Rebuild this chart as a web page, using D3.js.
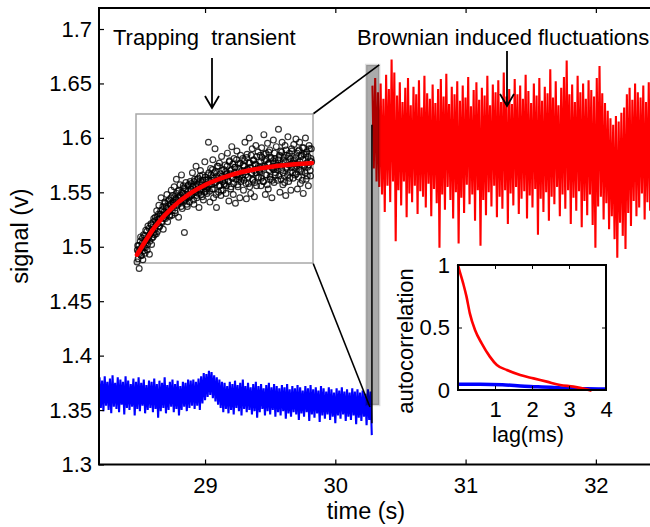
<!DOCTYPE html>
<html><head><meta charset="utf-8">
<script src="https://cdn.jsdelivr.net/npm/d3@7"></script>
<style>
body{margin:0;background:#fff}
svg{display:block;font-family:"Liberation Sans",Arial,Helvetica,sans-serif}
</style>
</head><body>
<svg id="c" width="650" height="527"></svg>
<script>
// ---------------- DATA ----------------
const xTicks = [29, 30, 31, 32];
const yTicks = [1.3, 1.35, 1.4, 1.45, 1.5, 1.55, 1.6, 1.65, 1.7];
const xLabel = "time (s)";
const yLabel = "signal (v)";

// blue trace (before trapping), sampled every blueStep seconds
const blueStart = 28.19, blueStep = 0.01;
const blueValues = [
1.380,1.352,1.377,1.349,1.381,1.354,1.376,1.350,1.379,1.347,1.382,1.353,1.375,1.351,1.380,1.348,1.378,1.355,1.376,1.346,
1.381,1.352,1.377,1.350,1.374,1.353,1.379,1.345,1.376,1.351,1.380,1.349,1.375,1.354,1.378,1.347,1.373,1.350,1.377,1.352,
1.376,1.348,1.379,1.351,1.374,1.343,1.377,1.349,1.375,1.352,1.380,1.347,1.373,1.350,1.376,1.353,1.378,1.348,1.374,1.351,
1.377,1.345,1.372,1.350,1.376,1.353,1.375,1.349,1.378,1.352,1.377,1.354,1.378,1.351,1.376,1.354,1.379,1.350,1.381,1.356,
1.384,1.359,1.383,1.362,1.386,1.364,1.385,1.361,1.382,1.358,1.380,1.355,1.378,1.352,1.376,1.348,1.375,1.351,1.372,1.347,
1.376,1.350,1.374,1.346,1.377,1.352,1.373,1.349,1.375,1.345,1.378,1.351,1.372,1.348,1.375,1.350,1.371,1.346,1.374,1.349,
1.376,1.343,1.372,1.348,1.374,1.351,1.370,1.345,1.373,1.349,1.375,1.346,1.371,1.350,1.374,1.344,1.372,1.348,1.370,1.345,
1.373,1.349,1.371,1.342,1.374,1.347,1.369,1.344,1.372,1.348,1.370,1.346,1.373,1.341,1.371,1.347,1.368,1.344,1.372,1.348,
1.370,1.340,1.373,1.346,1.369,1.343,1.371,1.347,1.368,1.339,1.372,1.345,1.370,1.342,1.367,1.346,1.371,1.341,1.369,1.344,
1.366,1.338,1.370,1.345,1.368,1.342,1.371,1.346,1.367,1.340,1.369,1.344,1.366,1.341,1.370,1.345,1.367,1.337,1.369,1.343,
1.366,1.340,1.368,1.344,1.365,1.336,1.369,1.341,1.367,1.327
];

// red trace (particle trapped), sampled every redStep seconds
const redStart = 30.285, redStep = 0.0105;
const redValues = [
1.648,1.572,1.655,1.560,1.642,1.555,1.650,1.548,1.636,1.532,1.658,1.556,1.645,1.541,1.672,1.560,1.660,1.505,1.639,1.552,
1.651,1.538,1.633,1.560,1.646,1.527,1.655,1.549,1.630,1.541,1.647,1.556,1.640,1.530,1.653,1.551,1.628,1.546,1.657,1.536,
1.641,1.558,1.636,1.528,1.649,1.553,1.632,1.540,1.645,1.499,1.654,1.548,1.638,1.534,1.659,1.555,1.631,1.543,1.647,1.526,
1.640,1.550,1.652,1.503,1.634,1.545,1.648,1.531,1.637,1.557,1.656,1.539,1.629,1.548,1.644,1.524,1.651,1.552,1.635,1.501,
1.646,1.543,1.639,1.529,1.657,1.550,1.630,1.537,1.649,1.556,1.642,1.527,1.653,1.546,1.633,1.535,1.660,1.552,1.638,1.521,
1.645,1.549,1.631,1.538,1.654,1.555,1.640,1.530,1.648,1.544,1.636,1.551,1.658,1.526,1.643,1.547,1.632,1.536,1.650,1.553,
1.639,1.511,1.655,1.544,1.634,1.532,1.647,1.550,1.641,1.524,1.663,1.546,1.637,1.539,1.652,1.555,1.630,1.528,1.646,1.548,
1.656,1.535,1.671,1.552,1.640,1.521,1.649,1.545,1.633,1.533,1.657,1.551,1.642,1.518,1.650,1.542,1.636,1.529,1.653,1.548,
1.644,1.520,1.638,1.499,1.655,1.537,1.666,1.546,1.641,1.525,1.632,1.540,1.625,1.516,1.618,1.528,1.612,1.507,1.620,1.490,
1.615,1.522,1.623,1.510,1.628,1.498,1.640,1.531,1.646,1.519,1.635,1.542,1.650,1.528,1.642,1.536,1.637,1.549,1.648,1.525,
1.633,1.541,1.651,1.533,1.639,1.547,1.645,1.530,1.636,1.544
];

// the jump between the two states
const jumpTime = 30.281;
const jumpValues = [1.338, 1.612];

// zoomed region highlighted on the main axes
const highlightTimes = [30.237, 30.337];
const highlightValues = [1.3547, 1.667];

// trapping transient inset (own time axis, ms; signal in volts)
// samples A at t = 0, 0.05, 0.10 ...; samples B at t = 0.025, 0.075, ...
const transientStartA = 0, transientStartB = 0.025, transientStep = 0.05;
const transientValuesA = [
1.486,1.501,1.495,1.480,1.498,1.509,1.492,1.503,1.488,1.511,1.500,1.494,1.515,1.506,1.497,1.519,1.508,1.493,1.512,1.521,1.502,1.516,1.509,1.526,
1.511,1.527,1.520,1.533,1.514,1.525,1.538,1.519,1.530,1.545,1.522,1.534,1.516,1.529,1.541,1.526,1.537,1.548,1.523,1.532,1.543,1.528,1.539,1.552,
1.529,1.547,1.540,1.555,1.533,1.544,1.562,1.538,1.551,1.527,1.546,1.557,1.541,1.566,1.535,1.549,1.554,1.513,1.543,1.559,1.548,1.537,1.556,1.545,
1.541,1.560,1.553,1.547,1.568,1.556,1.539,1.562,1.550,1.574,1.545,1.557,1.563,1.536,1.552,1.570,1.548,1.559,1.566,1.543,1.555,1.578,1.551,1.561,
1.549,1.566,1.596,1.557,1.541,1.572,1.561,1.553,1.580,1.545,1.568,1.590,1.559,1.536,1.574,1.563,1.550,1.577,1.556,1.547,1.583,1.565,1.552,1.571,
1.558,1.575,1.549,1.567,1.586,1.561,1.542,1.579,1.570,1.555,1.592,1.564,1.548,1.581,1.573,1.540,1.566,1.588,1.557,1.576,1.562,1.545,1.584,1.569,
1.563,1.581,1.552,1.574,1.596,1.566,1.544,1.585,1.571,1.558,1.600,1.577,1.549,1.568,1.590,1.561,1.580,1.546,1.575,1.593,1.556,1.572,1.587,1.564,
1.570,1.584,1.556,1.591,1.574,1.560,1.603,1.579,1.548,1.586,1.566,1.595,1.553,1.577,1.589,1.562,1.582,1.545,1.572,1.598,1.559,1.581,1.568,1.592,
1.575,1.561,1.608,1.582,1.550,1.588,1.571,1.596,1.557,1.579,1.565,1.593,1.547,1.584,1.573,1.601,1.560,1.586,1.569,1.552,1.590,1.577,1.563,1.594,
1.580,1.566,1.599,1.574,1.553,1.588,1.571,1.596,1.558,1.583,1.569,1.591,1.549,1.585,1.575,1.600,1.562,1.587,1.573,1.556,1.593,1.579,1.565,1.590
];
const transientValuesB = [
1.497,1.489,1.501,1.494,1.505,1.492,1.499,1.508,1.496,1.503,1.510,1.499,1.506,1.514,1.502,1.509,1.517,1.505,1.512,1.520,1.508,1.515,1.523,1.513,
1.516,1.524,1.512,1.527,1.521,1.530,1.518,1.526,1.533,1.523,1.529,1.537,1.526,1.532,1.540,1.528,1.535,1.531,1.542,1.534,1.529,1.539,1.545,1.536,
1.533,1.541,1.538,1.546,1.531,1.543,1.549,1.539,1.545,1.552,1.541,1.547,1.537,1.550,1.544,1.556,1.542,1.548,1.553,1.545,1.539,1.551,1.557,1.547,
1.546,1.553,1.558,1.548,1.555,1.543,1.560,1.551,1.556,1.547,1.562,1.553,1.549,1.559,1.565,1.552,1.557,1.546,1.561,1.555,1.550,1.564,1.557,1.553,
1.555,1.562,1.568,1.551,1.560,1.566,1.557,1.571,1.553,1.563,1.559,1.569,1.548,1.565,1.561,1.574,1.556,1.562,1.567,1.552,1.570,1.560,1.564,1.557,
1.561,1.569,1.556,1.574,1.565,1.560,1.578,1.567,1.553,1.571,1.563,1.576,1.558,1.568,1.573,1.562,1.580,1.566,1.555,1.572,1.564,1.577,1.560,1.570,
1.566,1.575,1.561,1.579,1.569,1.558,1.582,1.571,1.564,1.577,1.555,1.573,1.584,1.567,1.562,1.579,1.570,1.559,1.576,1.568,1.583,1.563,1.574,1.571,
1.569,1.578,1.563,1.582,1.572,1.560,1.585,1.574,1.566,1.580,1.557,1.576,1.587,1.570,1.564,1.581,1.573,1.561,1.579,1.571,1.586,1.566,1.577,1.574,
1.571,1.580,1.565,1.584,1.574,1.562,1.587,1.576,1.568,1.582,1.559,1.578,1.589,1.572,1.566,1.583,1.575,1.563,1.581,1.573,1.588,1.568,1.579,1.576,
1.573,1.582,1.567,1.586,1.576,1.564,1.589,1.578,1.570,1.584,1.561,1.580,1.591,1.574,1.568,1.585,1.577,1.565,1.583,1.575,1.590,1.570,1.581,1.578
];
const fitTimes  = [0, 1.2, 2.4, 3.6, 4.8, 6.0, 7.2, 8.4, 9.6, 10.8, 12.0];
const fitValues = [1.4926, 1.5178, 1.5357, 1.5485, 1.5576, 1.5640, 1.5687, 1.5719, 1.5742, 1.5758, 1.5770];
const transientDomainT = [0, 12];
const transientDomainV = [1.485, 1.622];

// autocorrelation inset
const acTicksX = [1, 2, 3, 4];
const acTicksY = [0, 0.5, 1];
const acLagRed = [0, 0.036, 0.14, 0.23, 0.32, 0.46, 0.64, 0.86, 1.05, 1.32, 1.68, 2.04, 2.40, 2.76, 3.12, 3.48, 3.61];
const acRed    = [1, 0.96, 0.853, 0.747, 0.613, 0.48, 0.373, 0.267, 0.20, 0.16, 0.12, 0.093, 0.067, 0.04, 0.027, 0.005, -0.005];
const acLagBlue = [0, 0.6, 1.2, 1.8, 2.5, 3.0, 3.5, 4.0];
const acBlue    = [0.045, 0.046, 0.042, 0.030, 0.022, 0.013, 0.010, 0.008];

const annTrap = "Trapping\u00a0 transient";
const annBrown = "Brownian induced fluctuations";

// ---------------- DRAW ----------------
const svg = d3.select("#c");
const FONT = "22px";
const LABELFONT = "23.5px";
const L = 99, T = 8, B = 464.5, R = 661;
const x = d3.scaleLinear().domain([28.186, 32.5]).range([L, R]);
const y = d3.scaleLinear().domain([1.3, 1.7193]).range([B, T]);

svg.append("defs").append("clipPath").attr("id", "plotclip")
  .append("rect").attr("x", L).attr("y", T).attr("width", R - L).attr("height", B - T);

const seriesPts = (start, step, vals) => vals.map((v, i) => [start + i * step, v]);
const line = d3.line().x(d => x(d[0])).y(d => y(d[1]));

const gData = svg.append("g").attr("clip-path", "url(#plotclip)");
gData.append("path").datum(seriesPts(blueStart, blueStep, blueValues))
  .attr("d", line).attr("fill", "none").attr("stroke", "#0000ff").attr("stroke-width", 2.1)
  .attr("stroke-linejoin", "miter").attr("stroke-miterlimit", 2);
gData.append("path").datum(seriesPts(redStart, redStep, redValues))
  .attr("d", line).attr("fill", "none").attr("stroke", "#ff0000").attr("stroke-width", 2.1)
  .attr("stroke-linejoin", "miter").attr("stroke-miterlimit", 2);
gData.append("path").datum(jumpValues.map(v => [jumpTime, v]))
  .attr("d", line).attr("fill", "none").attr("stroke", "#000").attr("stroke-width", 1.5);

// highlight rectangle
gData.append("rect")
  .attr("x", x(highlightTimes[0])).attr("y", y(highlightValues[1]))
  .attr("width", x(highlightTimes[1]) - x(highlightTimes[0]))
  .attr("height", y(highlightValues[0]) - y(highlightValues[1]))
  .attr("fill", "#000").attr("fill-opacity", 0.33)
  .attr("stroke", "#000").attr("stroke-opacity", 0.12).attr("stroke-width", 2.5);

// main axes frame
const frame = svg.append("g").attr("stroke", "#000").attr("stroke-width", 2).attr("fill", "none");
frame.append("path").attr("d", `M${R},${T}H${L}V${B}H${R}`);

const fontAxis = g => g.selectAll("text").attr("font-size", FONT).attr("font-family", "Liberation Sans, Arial, sans-serif").attr("fill", "#000");
const gy = svg.append("g").attr("transform", `translate(${L},0)`)
  .call(d3.axisLeft(y).tickValues(yTicks).tickSize(-5).tickPadding(7).tickFormat(d => String(d)));
gy.select(".domain").remove(); gy.call(fontAxis); gy.selectAll("line").attr("stroke-width", 1.2);
const gx = svg.append("g").attr("transform", `translate(0,${B})`)
  .call(d3.axisBottom(x).tickValues(xTicks).tickSize(-5).tickPadding(13).tickFormat(d => String(d)));
gx.select(".domain").remove(); gx.call(fontAxis); gx.selectAll("line").attr("stroke-width", 1.2);
const gxt = svg.append("g").attr("transform", `translate(0,${T})`)
  .call(d3.axisTop(x).tickValues(xTicks).tickSize(-5).tickFormat(""));
gxt.select(".domain").remove(); gxt.selectAll("line").attr("stroke-width", 1.2);

svg.append("text").attr("x", 366).attr("y", 519).attr("text-anchor", "middle")
  .attr("font-size", LABELFONT).text(xLabel);
svg.append("text").attr("transform", "translate(28,236) rotate(-90)").attr("text-anchor", "middle")
  .attr("font-size", LABELFONT).text(yLabel);

// ---- trapping transient inset ----
const ti = { l: 136, r: 313, t: 114, b: 263 };
const tx = d3.scaleLinear().domain(transientDomainT).range([ti.l + 1, ti.r - 1]);
const ty = d3.scaleLinear().domain(transientDomainV).range([ti.b, ti.t]);
// connector lines
svg.append("line").attr("x1", ti.r).attr("y1", ti.t)
  .attr("x2", x(highlightTimes[1])).attr("y2", y(highlightValues[1]))
  .attr("stroke", "#000").attr("stroke-width", 1.6);
svg.append("line").attr("x1", ti.r).attr("y1", ti.b)
  .attr("x2", x(jumpTime) - 2).attr("y2", y(highlightValues[0]) + 2)
  .attr("stroke", "#000").attr("stroke-width", 1.6);
svg.append("rect").attr("x", ti.l).attr("y", ti.t).attr("width", ti.r - ti.l).attr("height", ti.b - ti.t)
  .attr("fill", "#fff").attr("stroke", "#a8a8a8").attr("stroke-width", 1.5);
const transientPts = seriesPts(transientStartA, transientStep, transientValuesA)
  .concat(seriesPts(transientStartB, transientStep, transientValuesB));
svg.append("g").selectAll("circle")
  .data(transientPts)
  .join("circle")
  .attr("cx", d => tx(d[0])).attr("cy", d => ty(d[1])).attr("r", 2.9)
  .attr("fill", "none").attr("stroke", "#000").attr("stroke-opacity", 0.8).attr("stroke-width", 1.2);
svg.append("path").datum(fitTimes.map((t, i) => [t, fitValues[i]]))
  .attr("d", d3.line().curve(d3.curveMonotoneX).x(d => tx(d[0])).y(d => ty(d[1])))
  .attr("fill", "none").attr("stroke", "#ff0000").attr("stroke-width", 4.5).attr("stroke-linecap", "round");

// ---- autocorrelation inset ----
const ai = { l: 458, r: 606, t: 265, b: 390 };
const ax = d3.scaleLinear().domain([0, 4]).range([ai.l, ai.r]);
const ay = d3.scaleLinear().domain([0, 1]).range([ai.b, ai.t]);
svg.append("rect").attr("x", ai.l).attr("y", ai.t).attr("width", ai.r - ai.l).attr("height", ai.b - ai.t)
  .attr("fill", "#fff");
const acLine = d3.line().curve(d3.curveMonotoneX).x(d => ax(d[0])).y(d => ay(d[1]));
svg.append("path").datum(acLagBlue.map((l, i) => [l, acBlue[i]]))
  .attr("d", acLine).attr("fill", "none").attr("stroke", "#0000ff").attr("stroke-width", 3.5);
svg.append("path").datum(acLagRed.map((l, i) => [l, acRed[i]]))
  .attr("d", acLine).attr("fill", "none").attr("stroke", "#ff0000").attr("stroke-width", 2.6);
svg.append("rect").attr("x", ai.l).attr("y", ai.t).attr("width", ai.r - ai.l).attr("height", ai.b - ai.t)
  .attr("fill", "none").attr("stroke", "#000").attr("stroke-width", 2);
const aiy = svg.append("g").attr("transform", `translate(${ai.l},0)`)
  .call(d3.axisLeft(ay).tickValues(acTicksY).tickSize(-4).tickPadding(8).tickFormat(d => String(d)));
aiy.select(".domain").remove(); aiy.call(fontAxis);
const aiyr = svg.append("g").attr("transform", `translate(${ai.r},0)`)
  .call(d3.axisRight(ay).tickValues(acTicksY).tickSize(-4).tickFormat(""));
aiyr.select(".domain").remove();
const aix = svg.append("g").attr("transform", `translate(0,${ai.b})`)
  .call(d3.axisBottom(ax).tickValues(acTicksX).tickSize(-4).tickPadding(11).tickFormat(d => String(d)));
aix.select(".domain").remove(); aix.call(fontAxis);
const aixt = svg.append("g").attr("transform", `translate(0,${ai.t})`)
  .call(d3.axisTop(ax).tickValues(acTicksX).tickSize(-4).tickFormat(""));
aixt.select(".domain").remove();
svg.append("text").attr("x", 528).attr("y", 442).attr("text-anchor", "middle")
  .attr("font-size", "21.5px").text("lag(ms)");
svg.append("text").attr("transform", "translate(413,341) rotate(-90)").attr("text-anchor", "middle")
  .attr("font-size", FONT).text("autocorrelation");

// ---- annotations ----
svg.append("text").attr("x", 113).attr("y", 45).attr("font-size", FONT).text(annTrap);
svg.append("text").attr("x", 357).attr("y", 45).attr("font-size", FONT).text(annBrown);
function arrow(xp, y0, y1) {
  svg.append("path").attr("d", `M${xp},${y0}V${y1}M${xp - 7},${y1 - 12}L${xp},${y1}L${xp + 7},${y1 - 12}`)
    .attr("fill", "none").attr("stroke", "#000").attr("stroke-width", 1.8);
}
arrow(212, 58, 108);
arrow(507, 51, 106);
</script>
</body></html>
